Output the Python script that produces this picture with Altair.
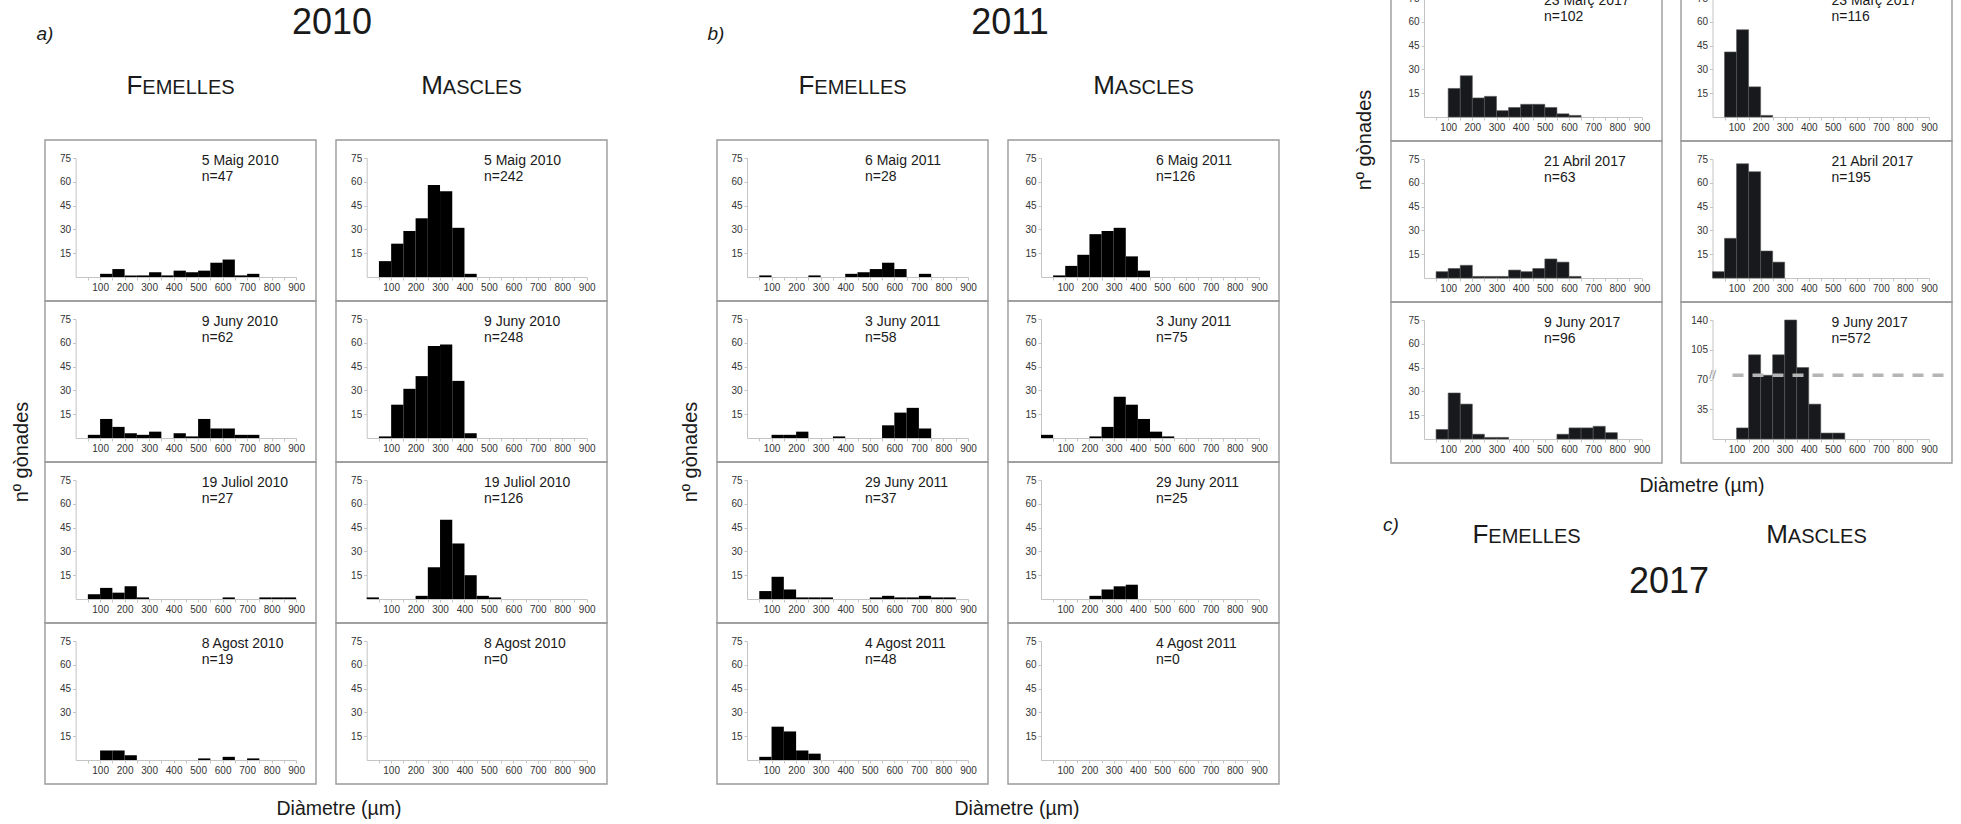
import altair as alt
import pandas as pd

W, H = 1961, 824
FONT = "Liberation Sans"

# ---------------- data ----------------
bin_start = [0, 50, 100, 150, 200, 250, 300, 350, 400, 450, 500, 550, 600, 650, 700, 750, 800, 850]
bin_end = [50, 100, 150, 200, 250, 300, 350, 400, 450, 500, 550, 600, 650, 700, 750, 800, 850, 900]
x_ticks = [50, 100, 150, 200, 250, 300, 350, 400, 450, 500, 550, 600, 650, 700, 750, 800, 850, 900]
y_ticks = [15, 30, 45, 60, 75]
y_ticks_big = [35, 70, 105, 140]

# 2010 females
f2010_maig = [0, 0, 2, 5, 1, 1, 3, 1, 4, 3, 4, 9, 11, 1, 2, 0, 0, 0]
f2010_juny = [0, 2, 12, 7, 3, 2, 4, 0, 3, 1, 12, 6, 6, 2, 2, 0, 0, 0]
f2010_juliol = [0, 3, 7, 4, 8, 1, 0, 0, 0, 0, 0, 0, 1, 0, 0, 1, 1, 1]
f2010_agost = [0, 0, 6, 6, 3, 0, 0, 0, 0, 0, 1, 0, 2, 0, 1, 0, 0, 0]
# 2010 males
m2010_maig = [0, 10, 21, 29, 37, 58, 54, 31, 2, 0, 0, 0, 0, 0, 0, 0, 0, 0]
m2010_juny = [0, 1, 21, 31, 39, 58, 59, 36, 3, 0, 0, 0, 0, 0, 0, 0, 0, 0]
m2010_juliol = [1, 0, 0, 0, 2, 20, 50, 35, 15, 2, 1, 0, 0, 0, 0, 0, 0, 0]
m2010_agost = [0, 0, 0, 0, 0, 0, 0, 0, 0, 0, 0, 0, 0, 0, 0, 0, 0, 0]
# 2011 females
f2011_maig = [0, 1, 0, 0, 0, 1, 0, 0, 2, 3, 5, 9, 5, 0, 2, 0, 0, 0]
f2011_juny = [0, 0, 2, 2, 4, 0, 0, 1, 0, 0, 0, 8, 16, 19, 6, 0, 0, 0]
f2011_juny29 = [0, 5, 14, 6, 1, 1, 1, 0, 0, 0, 1, 2, 1, 1, 2, 1, 1, 0]
f2011_agost = [0, 2, 21, 18, 6, 4, 0, 0, 0, 0, 0, 0, 0, 0, 0, 0, 0, 0]
# 2011 males
m2011_maig = [0, 1, 7, 14, 27, 29, 31, 13, 4, 0, 0, 0, 0, 0, 0, 0, 0, 0]
m2011_juny = [2, 0, 0, 0, 1, 7, 26, 21, 12, 4, 1, 0, 0, 0, 0, 0, 0, 0]
m2011_juny29 = [0, 0, 0, 0, 2, 6, 8, 9, 0, 0, 0, 0, 0, 0, 0, 0, 0, 0]
m2011_agost = [0, 0, 0, 0, 0, 0, 0, 0, 0, 0, 0, 0, 0, 0, 0, 0, 0, 0]
# 2017 females
f2017_marc = [0, 0, 18, 26, 12, 13, 4, 6, 8, 8, 6, 2, 1, 0, 0, 0, 0, 0]
f2017_abril = [0, 4, 6, 8, 1, 1, 1, 5, 4, 6, 12, 10, 1, 0, 0, 0, 0, 0]
f2017_juny = [0, 6, 29, 22, 3, 1, 1, 0, 0, 0, 0, 3, 7, 7, 8, 4, 0, 0]
# 2017 males
m2017_marc = [0, 41, 55, 19, 1, 0, 0, 0, 0, 0, 0, 0, 0, 0, 0, 0, 0, 0]
m2017_abril = [4, 25, 72, 67, 17, 10, 0, 0, 0, 0, 0, 0, 0, 0, 0, 0, 0, 0]
m2017_juny = [0, 0, 13, 99, 75, 99, 140, 84, 41, 7, 7, 0, 0, 0, 0, 0, 0, 0]

dates_2010 = ["5 Maig 2010", "9 Juny 2010", "19 Juliol 2010", "8 Agost 2010"]
dates_2011 = ["6 Maig 2011", "3 Juny 2011", "29 Juny 2011", "4 Agost 2011"]
dates_2017 = ["23 Març 2017", "21 Abril 2017", "9 Juny 2017"]
n_2010_f = ["n=47", "n=62", "n=27", "n=19"]
n_2010_m = ["n=242", "n=248", "n=126", "n=0"]
n_2011_f = ["n=28", "n=58", "n=37", "n=48"]
n_2011_m = ["n=126", "n=75", "n=25", "n=0"]
n_2017_f = ["n=102", "n=63", "n=96"]
n_2017_m = ["n=116", "n=195", "n=572"]
ref_level = [75]

# ---------------- layout ----------------
PW, PH = 271, 161
rows_ab = [140, 301, 462, 623]
rows_c = [-20, 141, 302]
cols = {
    "2010F": dict(left=45, xoff=30.6, xspan=220.5, tdx=156.7),
    "2010M": dict(left=336, xoff=30.7, xspan=220.0, tdx=148),
    "2011F": dict(left=717, xoff=30.0, xspan=221.0, tdx=148),
    "2011M": dict(left=1008, xoff=33.0, xspan=218.0, tdx=148),
    "2017F": dict(left=1391, xoff=33.0, xspan=217.5, tdx=153),
    "2017M": dict(left=1681, xoff=31.5, xspan=216.5, tdx=150.5),
}

layers = []


def text_layer(label, x, y, size, align="center", baseline="middle", angle=0,
               color="#1a1a1a", style="normal"):
    kw = dict(font=FONT, fontSize=size, align=align, baseline=baseline,
              color=color, fontStyle=style)
    if angle:
        kw["angle"] = angle
    return alt.Chart(pd.DataFrame({"t": [label]})).mark_text(**kw).encode(
        text="t:N", x=alt.value(x), y=alt.value(y))


def panel(counts, date, ntxt, col, top, dark2017=False, big=False):
    c = cols[col]
    left = c["left"]
    x0 = left + c["xoff"]
    yb = top + 137
    yt = top + 18
    ymax = 140 if big else 75
    yvals = y_ticks_big if big else y_ticks
    df = pd.DataFrame({"start": bin_start, "end": bin_end, "count": counts})
    xs = alt.Scale(domain=[0, 900], range=[x0, x0 + c["xspan"]], nice=False, zero=False)
    ys = alt.Scale(domain=[0, ymax], range=[yb, yt], nice=False)
    xaxis = alt.Axis(orient="bottom", offset=yb - H, values=x_ticks,
                     labelExpr="datum.value % 100 == 0 ? datum.label : ''",
                     title=None, grid=False, domainColor="#c4c4c4", tickColor="#c4c4c4",
                     tickSize=3, labelFontSize=10, labelColor="#333333", labelPadding=2,
                     labelFont=FONT, labelOverlap=False, labelFlush=False)
    yaxis = alt.Axis(orient="left", offset=-x0, values=yvals, title=None, grid=False,
                     domainColor="#c4c4c4", tickColor="#c4c4c4", tickSize=3,
                     labelFontSize=10, labelColor="#333333", labelPadding=2,
                     labelFont=FONT, labelOverlap=False, labelFlush=False)
    if dark2017:
        mk = dict(color="#17191c", stroke="#555555", strokeWidth=0.6)
    else:
        mk = dict(color="#000000")
    bars = alt.Chart(df).transform_filter("datum.count > 0").mark_rect(**mk).encode(
        x=alt.X("start:Q", scale=xs, axis=xaxis),
        x2="end:Q",
        y=alt.Y("count:Q", scale=ys, axis=yaxis),
        y2=alt.datum(0),
    )
    if big:
        rdf = pd.DataFrame({"ref": ref_level})
        rule = alt.Chart(rdf).mark_rule(color="#b5b5b5", strokeWidth=3.5,
                                        strokeDash=[11, 9]).encode(
            y=alt.Y("ref:Q", scale=ys, axis=yaxis),
            x=alt.value(x0 + 20), x2=alt.value(left + PW - 2))
        brk = alt.Chart(rdf).mark_text(text="//", font=FONT, fontSize=13, color="#9a9a9a",
                                       align="center", baseline="middle").encode(
            y=alt.Y("ref:Q", scale=ys, axis=yaxis), x=alt.value(x0))
        layers.append(alt.layer(bars, rule, brk))
    else:
        layers.append(bars)
    layers.append(
        alt.Chart(pd.DataFrame({"t": [0]})).mark_rect(
            filled=False, stroke="#9a9a9a", strokeWidth=1.4).encode(
            x=alt.value(left), x2=alt.value(left + PW),
            y=alt.value(top), y2=alt.value(top + PH)))
    layers.append(text_layer(date, left + c["tdx"], top + 21, 14, align="left"))
    layers.append(text_layer(ntxt, left + c["tdx"], top + 37, 14, align="left"))


f2010 = [f2010_maig, f2010_juny, f2010_juliol, f2010_agost]
m2010 = [m2010_maig, m2010_juny, m2010_juliol, m2010_agost]
f2011 = [f2011_maig, f2011_juny, f2011_juny29, f2011_agost]
m2011 = [m2011_maig, m2011_juny, m2011_juny29, m2011_agost]
f2017 = [f2017_marc, f2017_abril, f2017_juny]
m2017 = [m2017_marc, m2017_abril, m2017_juny]

for i in range(4):
    panel(f2010[i], dates_2010[i], n_2010_f[i], "2010F", rows_ab[i])
    panel(m2010[i], dates_2010[i], n_2010_m[i], "2010M", rows_ab[i])
    panel(f2011[i], dates_2011[i], n_2011_f[i], "2011F", rows_ab[i])
    panel(m2011[i], dates_2011[i], n_2011_m[i], "2011M", rows_ab[i])
for i in range(3):
    panel(f2017[i], dates_2017[i], n_2017_f[i], "2017F", rows_c[i], dark2017=True)
    panel(m2017[i], dates_2017[i], n_2017_m[i], "2017M", rows_c[i], dark2017=True, big=(i == 2))


def small_caps(word, cx, base_y, big=26, small=20):
    first, rest = word[0], word[1:]
    wf = {"F": 0.611, "M": 0.833}[first] * big
    wr = sum({"E": 0.667, "M": 0.833, "L": 0.556, "S": 0.667, "A": 0.667, "C": 0.722}[ch]
             for ch in rest) * small
    x_split = cx - (wf + wr) / 2 + wf
    layers.append(text_layer(first, x_split, base_y, big, align="right", baseline="alphabetic"))
    layers.append(text_layer(rest, x_split, base_y, small, align="left", baseline="alphabetic"))


# group headings
layers.append(text_layer("a)", 45, 34, 19, style="italic"))
layers.append(text_layer("b)", 716, 34, 19, style="italic"))
layers.append(text_layer("c)", 1391, 525, 19, style="italic"))
layers.append(text_layer("2010", 332, 23, 36))
layers.append(text_layer("2011", 1010, 23, 36))
layers.append(text_layer("2017", 1669, 582, 36))
small_caps("FEMELLES", 180.5, 94)
small_caps("MASCLES", 471.5, 94)
small_caps("FEMELLES", 852.5, 94)
small_caps("MASCLES", 1143.5, 94)
small_caps("FEMELLES", 1526.5, 543)
small_caps("MASCLES", 1816.5, 543)
layers.append(text_layer("Diàmetre (µm)", 339, 809, 19.5))
layers.append(text_layer("Diàmetre (µm)", 1017, 809, 19.5))
layers.append(text_layer("Diàmetre (µm)", 1702, 486, 19.5))
layers.append(text_layer("nº gònades", 22, 452, 20, angle=270))
layers.append(text_layer("nº gònades", 691, 452, 20, angle=270))
layers.append(text_layer("nº gònades", 1365, 140, 20, angle=270))

chart = alt.layer(*layers).resolve_scale(x="independent", y="independent").properties(
    width=W, height=H, padding=0, autosize=alt.AutoSizeParams(type="none"),
    background="white"
).configure_view(stroke=None)

chart.save("out.html", embed_options={"renderer": "svg", "actions": False})
